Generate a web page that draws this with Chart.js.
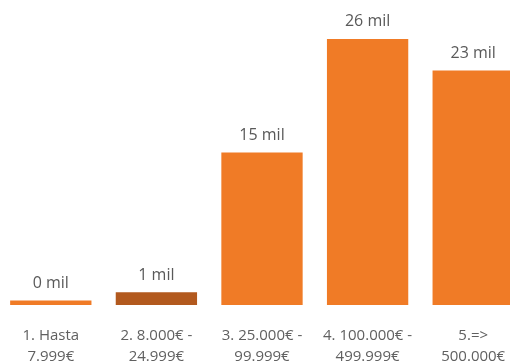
<!DOCTYPE html>
<html>
<head>
<meta charset="utf-8">
<script src="https://cdn.jsdelivr.net/npm/chart.js@4"></script>
<style>
  html, body { margin: 0; padding: 0; background: #fff; overflow: hidden; }
  body { width: 510px; height: 363px; position: relative; }
  #wrap { position: absolute; left: -2px; top: 0; width: 528px; height: 387px; }
</style>
</head>
<body>
<div id="wrap"><canvas id="chart"></canvas></div>
<script>
const categories = [
  ['1. Hasta', '7.999€'],
  ['2. 8.000€ -', '24.999€'],
  ['3. 25.000€ -', '99.999€'],
  ['4. 100.000€ -', '499.999€'],
  ['5.=>', '500.000€']
];
// miles
const values = [0.45, 1.25, 14.9, 26, 22.9];
const barColors = ['#F07B26', '#B2591E', '#F07B26', '#F07B26', '#F07B26'];

const valueLabels = {
  id: 'valueLabels',
  afterDatasetsDraw(chart) {
    const ctx = chart.ctx;
    const meta = chart.getDatasetMeta(0);
    ctx.save();
    ctx.font = '16px "Open Sans"';
    ctx.fillStyle = '#595959';
    ctx.textAlign = 'center';
    ctx.textBaseline = 'middle';
    meta.data.forEach((bar, i) => {
      ctx.fillText(Math.round(values[i]) + ' mil', bar.x, bar.y - 17);
    });
    ctx.restore();
  }
};

new Chart(document.getElementById('chart').getContext('2d'), {
  type: 'bar',
  data: {
    labels: categories,
    datasets: [{
      data: values,
      backgroundColor: barColors,
      barPercentage: 0.77,
      categoryPercentage: 1
    }]
  },
  options: {
    responsive: true,
    maintainAspectRatio: false,
    animation: false,
    layout: { padding: 0 },
    plugins: { legend: { display: false }, tooltip: { enabled: false } },
    scales: {
      y: { display: false, min: 0, max: 29.8 },
      x: {
        grid: { display: false, drawTicks: false },
        border: { display: false },
        ticks: {
          padding: 20,
          maxRotation: 0,
          autoSkip: false,
          color: '#606060',
          font: { family: '"Open Sans"', size: 15, lineHeight: 1.4 }
        }
      }
    }
  },
  plugins: [valueLabels]
});
</script>
</body>
</html>
